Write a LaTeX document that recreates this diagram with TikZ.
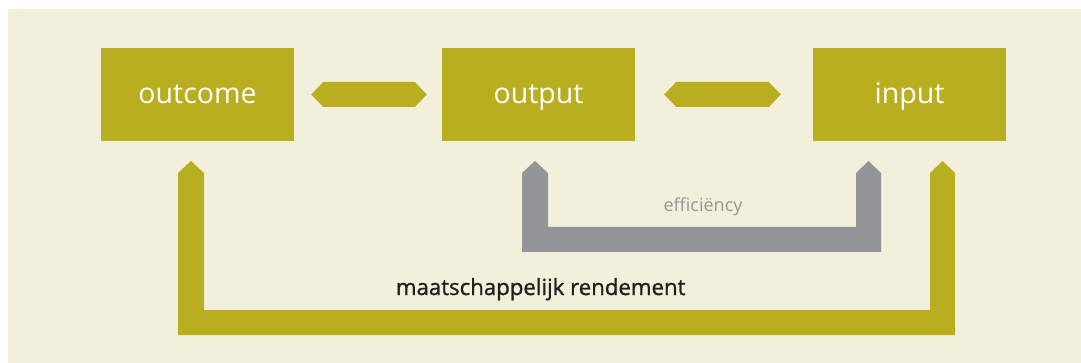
\documentclass[tikz,border=0pt]{standalone}
\usepackage{fontspec}
\setmainfont{Open Sans}
\newfontfamily\mediumsans[FakeBold=1.2]{Open Sans}
\usetikzlibrary{calc}
\definecolor{olivebar}{RGB}{185,174,31}
\definecolor{creambg}{RGB}{242,240,218}
\definecolor{steelgray}{RGB}{147,149,152}
\definecolor{inkdark}{RGB}{35,31,32}
\tikzset{
  stagebox/.style={fill=olivebar, minimum width=193pt, minimum height=93pt,
    inner sep=0pt, text=white, font=\fontsize{28.5}{30}\selectfont,
    text height=19pt, text depth=0pt},
  hexlink/.style={fill=olivebar},
  loopbar/.style={fill=#1},
}
\begin{document}
\begin{tikzpicture}[x=1pt,y=-1pt]
\useasboundingbox (0,0) rectangle (1081,363);
\fill[creambg] (8,9) rectangle (1081,363);

% the three stages
\node[stagebox] (outcome) at (197.5,94.5) {outcome};
\node[stagebox] (output)  at (538.5,94.5) {output};
\node[stagebox] (input)   at (909.5,94.5) {input};

% hexagonal two-way links between the stages
\coordinate (l1a) at ([xshift=17pt]outcome.east);
\coordinate (l1b) at ([xshift=-15pt]output.west);
\fill[hexlink] (l1a) -- ($(l1a)+(12,-12.5)$) -- ($(l1b)+(-12,-12.5)$) -- (l1b)
  -- ($(l1b)+(-12,12.5)$) -- ($(l1a)+(12,12.5)$) -- cycle;
\coordinate (l2a) at ([xshift=29pt]output.east);
\coordinate (l2b) at ([xshift=-32pt]input.west);
\fill[hexlink] (l2a) -- ($(l2a)+(12,-12.5)$) -- ($(l2b)+(-12,-12.5)$) -- (l2b)
  -- ($(l2b)+(-12,12.5)$) -- ($(l2a)+(12,12.5)$) -- cycle;

% efficiency loop: output <-> input
\fill[loopbar=steelgray] (535,161) -- (548,173) -- (548,227) -- (856,227) -- (856,173)
  -- (868.5,161) -- (881,173) -- (881,252) -- (522,252) -- (522,173) -- cycle;
\node[text=steelgray, font=\fontsize{18}{20}\selectfont, anchor=base] (eff)
  at (703,211.7) {efficiëncy};

% social return loop: outcome <-> input
\fill[loopbar=olivebar] (191,161) -- (204,173) -- (204,310) -- (930,310) -- (930,173)
  -- (942.5,161) -- (955,173) -- (955,335) -- (178,335) -- (178,173) -- cycle;
\node[text=inkdark, font=\mediumsans\fontsize{22.2}{24}\selectfont, anchor=base] (ret)
  at (540.7,295) {maatschappelijk rendement};
\end{tikzpicture}
\end{document}
